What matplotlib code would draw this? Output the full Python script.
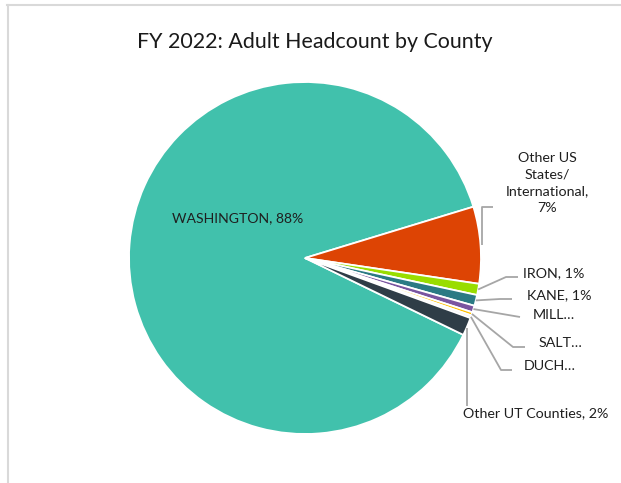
import numpy as np
import matplotlib
matplotlib.use('Agg')
import matplotlib.pyplot as plt
from matplotlib.lines import Line2D

# Data (percent of adult headcount, FY 2022)
counties = ['WASHINGTON', 'Other US States/International', 'IRON', 'KANE',
            'MILLARD', 'SALT LAKE', 'DUCHESNE', 'Other UT Counties']
shares = [88.1, 7.05, 1.03, 1.0, 0.62, 0.3, 0.25, 1.65]
label_texts = ['WASHINGTON, 88%', 'Other US\nStates/\nInternational,\n7%',
               'IRON, 1%', 'KANE, 1%', 'MILL…', 'SALT…', 'DUCH…',
               'Other UT Counties, 2%']
colors = ['#41C1AC', '#DD4404', '#99DD00', '#2B7A84', '#7A55A0',
          '#FFC000', '#F4F4F4', '#2F3D47']

W, H = 621, 483
plt.rcParams['font.family'] = ['Lato', 'DejaVu Sans']

fig = plt.figure(figsize=(W / 100, H / 100), dpi=100)
ax = fig.add_axes([0, 0, 1, 1])

cx, cy, r = 305, H - 258, 176
start = -25.9
wedges, _ = ax.pie(shares, colors=colors, startangle=start, counterclock=False,
                   center=(cx, cy), radius=r, frame=True,
                   wedgeprops=dict(edgecolor='white', linewidth=1.3))
ax.set_xlim(0, W)
ax.set_ylim(0, H)
ax.set_aspect('equal')
ax.axis('off')

txt_color = '#1F1F1F'
line_color = '#A6A6A6'
fs = 10.3

# Title
fig.text(315 / W, 1 - 42 / H, 'FY 2022: Adult Headcount by County',
         ha='center', va='center', fontsize=15.4, color='#1A1A1A')

# inside label
ax.text(238, H - 218, label_texts[0], ha='center', va='center',
        fontsize=fs * 0.98, color=txt_color)


def edge_point(w):
    mid = np.deg2rad((w.theta1 + w.theta2) / 2)
    return cx + r * np.cos(mid), cy + r * np.sin(mid)


# leader lines: elbow/end points (pixel coords from top), text anchor
leaders = {
    1: ([(482, 207), (493, 207)], (547, 183), 'center'),
    2: ([(506, 277), (518, 277)], (523, 273), 'left'),
    3: ([(500, 299), (512, 299)], (527, 295), 'left'),
    4: ([(520, 317)], (533, 315), 'left'),
    5: ([(513, 347), (525, 347)], (539, 343), 'left'),
    6: ([(501, 370), (512, 370)], (524, 366), 'left'),
    7: ([(467, 406)], (463, 413), 'left'),
}

for i, (pts, (tx, ty), ha) in leaders.items():
    x0, y0 = edge_point(wedges[i])
    if i == 1:
        x0, y0 = 482, H - 245
    if i == 7:
        x0, y0 = 467, H - 328
    xs = [x0] + [p[0] for p in pts]
    ys = [y0] + [H - p[1] for p in pts]
    ax.plot(xs, ys, color=line_color, lw=1.3, solid_capstyle='butt')
    ax.text(tx, H - ty, label_texts[i], ha=ha, va='center', fontsize=fs,
            color=txt_color, linespacing=1.5, multialignment='center')

# chart border
fig.add_artist(Line2D([7 / W, 1], [1 - 5 / H, 1 - 5 / H], color='#D9D9D9',
                      lw=1.5, transform=fig.transFigure))
fig.add_artist(Line2D([7.5 / W, 7.5 / W], [0, 1 - 5 / H], color='#D9D9D9',
                      lw=1.5, transform=fig.transFigure))

fig.savefig('out.png', dpi=100)
